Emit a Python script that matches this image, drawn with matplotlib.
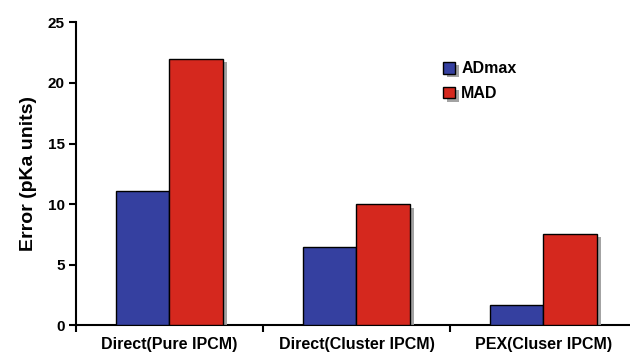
import numpy as np
import matplotlib
matplotlib.use("Agg")
import matplotlib.pyplot as plt
import matplotlib.patheffects as pe

plt.rcParams['font.family'] = ['Liberation Sans', 'DejaVu Sans']
plt.rcParams['font.weight'] = 'bold'

categories = ['Direct(Pure IPCM)', 'Direct(Cluster IPCM)', 'PEX(Cluser IPCM)']
admax = [11.1, 6.5, 1.7]
mad = [22.0, 10.0, 7.55]

fig = plt.figure(figsize=(6.3, 3.56), dpi=100)
ax = fig.add_axes([0.1206, 0.0857, 0.8794, 0.852])

x = np.arange(len(categories))
w = 0.286
shadow = [pe.SimplePatchShadow(offset=(3, -2.5), shadow_rgbFace='#999999', alpha=0.9), pe.Normal()]
ax.bar(x - w / 2, admax, w, color='#3540a0', edgecolor='black', linewidth=1.0,
       label='ADmax', path_effects=shadow, zorder=3)
ax.bar(x + w / 2, mad, w, color='#d5281e', edgecolor='black', linewidth=1.0,
       label='MAD', path_effects=shadow, zorder=3)

ax.set_xlim(-0.5, 2.463)
ax.set_ylim(0, 25)
ax.set_yticks([0, 5, 10, 15, 20, 25])
ax.set_xticks([-0.5, 0.5, 1.5])
ax.set_xticklabels([])
ax.set_xticks(x, minor=True)
ax.set_xticklabels(categories, minor=True, fontsize=11.5, fontweight='bold')
ax.tick_params(axis='x', which='minor', length=0, pad=8)
ax.tick_params(axis='x', which='major', length=5, width=1.5, direction='out')
ax.tick_params(axis='y', length=5, width=1.5, labelsize=11, pad=3)
for lab in ax.get_yticklabels():
    lab.set_fontweight('bold')

for s in ['top', 'right']:
    ax.spines[s].set_visible(False)
for s in ['left', 'bottom']:
    ax.spines[s].set_linewidth(1.5)

ax.set_ylabel('Error (pKa units)', fontsize=14, fontweight='bold', labelpad=8)

leg = ax.legend(loc='upper left', bbox_to_anchor=(0.703, 0.828), bbox_transform=fig.transFigure,
                frameon=False, fontsize=11.5, handlelength=0.75, handleheight=0.75,
                handletextpad=0.4, labelspacing=0.62, borderpad=0, borderaxespad=0)
for t in leg.get_texts():
    t.set_fontweight('bold')

fig.savefig('out.png', dpi=100)
